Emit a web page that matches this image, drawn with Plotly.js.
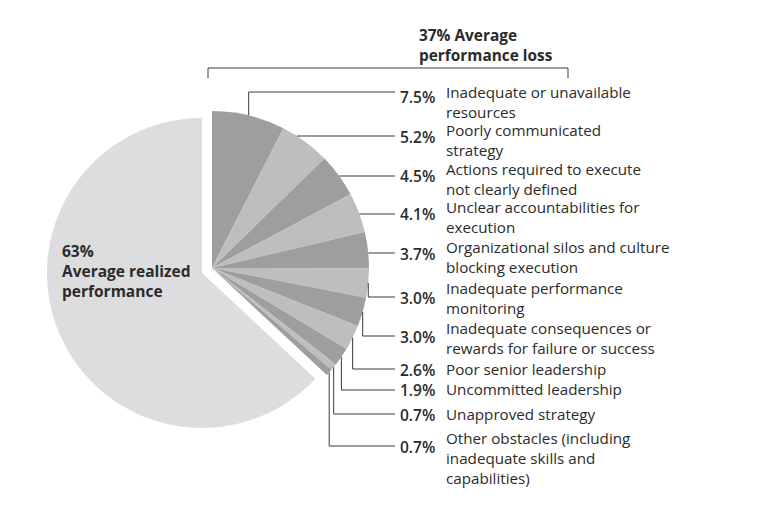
<!DOCTYPE html>
<html>
<head>
<meta charset="utf-8">
<script src="https://cdn.plot.ly/plotly-3.0.1.min.js"></script>
<style>html,body{margin:0;padding:0;background:#fff;}#chart{width:763px;height:506px;}</style>
</head>
<body>
<div id="chart"></div>
<script>
// ---- data ----
const realizedValue = 63;
const realizedLabel = ["63%", "Average realized", "performance"];
const lossTitle = ["37% Average", "performance loss"];
const lossValues = [7.5, 5.2, 4.5, 4.1, 3.7, 3.0, 3.0, 2.6, 1.9, 0.7, 0.7];
const lossPctLabels = ["7.5%", "5.2%", "4.5%", "4.1%", "3.7%", "3.0%", "3.0%", "2.6%", "1.9%", "0.7%", "0.7%"];
const lossCauses = [
  ["Inadequate or unavailable", "resources"],
  ["Poorly communicated", "strategy"],
  ["Actions required to execute", "not clearly defined"],
  ["Unclear accountabilities for", "execution"],
  ["Organizational silos and culture", "blocking execution"],
  ["Inadequate performance", "monitoring"],
  ["Inadequate consequences or", "rewards for failure or success"],
  ["Poor senior leadership"],
  ["Uncommitted leadership"],
  ["Unapproved strategy"],
  ["Other obstacles (including", "inadequate skills and", "capabilities)"]
];

// ---- layout config (pixels) ----
const W = 763, H = 506;
const mainPie = {cx: 202, cy: 273, r: 155};
const lossPie = {cx: 212, cy: 268, r: 157};
const leaderY = [92, 136, 176, 214, 253, 297, 336, 369, 390, 414, 446];
const pctY = [97, 137, 176, 214, 254, 298, 337, 370, 390, 415, 447];
const causeY = [92, 130.5, 169, 207, 247, 288, 328, 369, 389, 414, 438];
const lineEndX = 395, pctX = 398, causeX = 445;
const textColor = "#2b2b2b", lineColor = "#3a3a3a";
const darkGray = "#9d9ea0", lightGray = "#bdbec0", mainGray = "#dddddf";
const FONT = "Open Sans, sans-serif";
const FS = 15.2;
const lineGap = FS * 1.3;

const px = x => x / W;
const py = y => 1 - y / H;
const lossTotal = lossValues.reduce((a, b) => a + b, 0);
const total = lossTotal + realizedValue;

function domainFor(p) {
  return {x: [px(p.cx - p.r), px(p.cx + p.r)], y: [py(p.cy + p.r), py(p.cy - p.r)]};
}

const traces = [
  {
    type: "pie", values: [lossTotal, realizedValue], sort: false,
    direction: "clockwise", rotation: 0,
    marker: {colors: ["rgba(0,0,0,0)", mainGray], line: {width: 0}},
    textinfo: "none", hoverinfo: "none", domain: domainFor(mainPie), showlegend: false
  },
  {
    type: "pie", values: lossValues.concat([realizedValue]), sort: false,
    direction: "clockwise", rotation: 0,
    marker: {colors: lossValues.map((v, i) => i % 2 === 0 ? darkGray : lightGray).concat(["rgba(0,0,0,0)"]), line: {width: 0}},
    textinfo: "none", hoverinfo: "none", domain: domainFor(lossPie), showlegend: false
  }
];

const shapes = [];
const annotations = [];

// bracket over the loss group
shapes.push({type: "path", xref: "paper", yref: "paper",
  path: `M ${px(208)},${py(78)} L ${px(208)},${py(68)} L ${px(568)},${py(68)} L ${px(568)},${py(78)}`,
  line: {color: lineColor, width: 1}});

// leader lines computed from slice angles
let cum = 0;
lossValues.forEach((v, i) => {
  const a0 = cum / total * 2 * Math.PI;
  const a1 = (cum + v) / total * 2 * Math.PI;
  const am = (cum + v / 2) / total * 2 * Math.PI;
  cum += v;
  const ly = leaderY[i];
  const c = (lossPie.cy - ly) / lossPie.r;
  let path;
  if (ly <= lossPie.cy && Math.abs(c) <= 1 && Math.acos(c) >= a0 && Math.acos(c) <= a1) {
    const ax = lossPie.cx + lossPie.r * Math.sin(Math.acos(c));
    path = `M ${px(ax)},${py(ly)} L ${px(lineEndX)},${py(ly)}`;
  } else {
    const ax = lossPie.cx + lossPie.r * Math.sin(am);
    const ay = lossPie.cy - lossPie.r * Math.cos(am);
    path = `M ${px(ax)},${py(ay)} L ${px(ax)},${py(ly)} L ${px(lineEndX)},${py(ly)}`;
  }
  shapes.push({type: "path", xref: "paper", yref: "paper", path, line: {color: lineColor, width: 1}});

  annotations.push({xref: "paper", yref: "paper", x: px(pctX), y: py(pctY[i]), xanchor: "left", yanchor: "middle",
    showarrow: false, text: lossPctLabels[i], font: {family: FONT, size: FS + 0.3, color: textColor, weight: 600}});
  const n = lossCauses[i].length;
  annotations.push({xref: "paper", yref: "paper", x: px(causeX), y: py(causeY[i] + (n - 1) * lineGap / 2),
    xanchor: "left", yanchor: "middle", align: "left", borderpad: 0,
    showarrow: false, text: lossCauses[i].join("<br>"), font: {family: FONT, size: FS, color: textColor}});
});

// titles
annotations.push({xref: "paper", yref: "paper", x: px(417), y: py(35 + 20 / 2), xanchor: "left", yanchor: "middle", align: "left",
  showarrow: false, text: lossTitle.map(t => "<b>" + t + "</b>").join("<br>"), font: {family: FONT, size: 15.4, color: textColor}});
annotations.push({xref: "paper", yref: "paper", x: px(60), y: py(250 + 21), xanchor: "left", yanchor: "middle", align: "left",
  showarrow: false, text: realizedLabel.map(t => "<b>" + t + "</b>").join("<br>"), font: {family: FONT, size: 15.5, color: textColor}});

const layout = {
  width: W, height: H, margin: {l: 0, r: 0, t: 0, b: 0},
  paper_bgcolor: "#ffffff", plot_bgcolor: "#ffffff",
  showlegend: false, shapes, annotations
};

Plotly.newPlot("chart", traces, layout, {staticPlot: true, displayModeBar: false});
</script>
</body>
</html>
